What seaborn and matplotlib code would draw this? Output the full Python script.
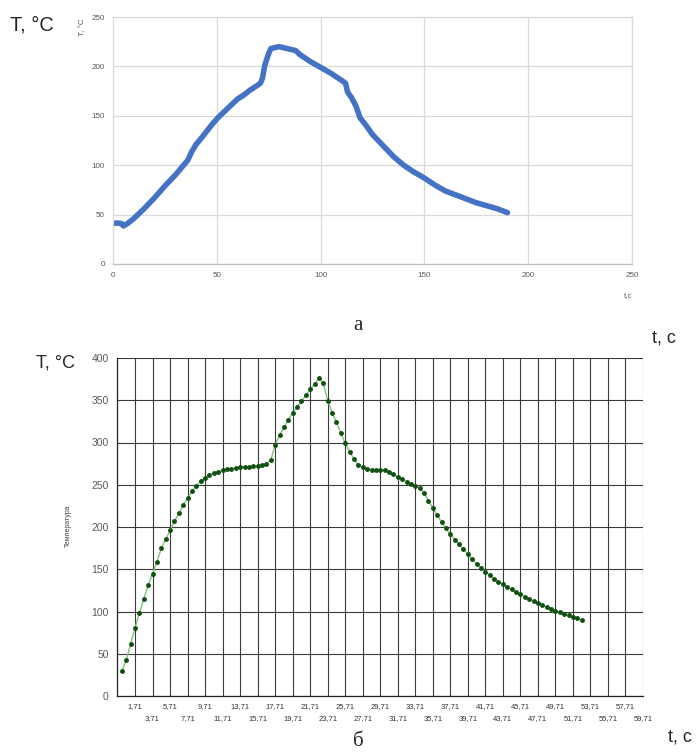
import numpy as np
import matplotlib
matplotlib.use("Agg")
import matplotlib.pyplot as plt
import seaborn as sns

# ===== Panel a: readings (t, s / T, °C) =====
time_a = [0, 2, 4, 5, 7, 10, 15, 20, 25, 30,
          34, 36, 38, 40, 42, 45, 48, 51, 54, 57,
          60, 63, 66, 69, 71, 72, 73, 74, 75, 76,
          78, 80, 84, 88, 90, 95, 100, 105, 110, 112,
          113, 115, 117, 119, 122, 125, 130, 135, 140, 145,
          150, 155, 160, 165, 170, 175, 180, 185, 190]
temp_a = [41, 41.5, 41, 38.5, 41, 46, 56, 67, 79, 90,
          100, 105, 114, 121, 126, 134, 142, 149, 155, 161,
          167, 171, 176, 180, 183, 188, 200, 207, 213, 218,
          219, 220, 218, 216, 212, 205, 199, 193, 186, 183,
          174, 168, 160, 148, 140, 131, 120, 109, 100, 93,
          87, 80, 74, 70, 66, 62, 59, 56, 52]

# ===== Panel б: readings every 0.5 s starting at 0.21 s =====
temp_b = [29.6, 42.2, 61.9, 80.9, 98.2, 114.8, 131, 144.8, 159, 174.8,
          185.4, 196, 206.7, 216.2, 225.7, 234.3, 242.2, 248.5, 254.5, 258,
          261.5, 263.5, 265.4, 267.1, 268.3, 269, 269.8, 270.6, 271, 271.4,
          271.8, 272.2, 273.4, 274.6, 279.3, 297, 308.4, 317.9, 326.6, 335.3,
          342, 348.7, 355.7, 362.9, 368.9, 376, 370, 349.5, 335.3, 323.9,
          310.9, 299, 289.2, 280.1, 273.4, 270.6, 268.6, 267.8, 267.5, 267.5,
          267.1, 265.4, 262.3, 259.2, 256.4, 253.3, 250.9, 248.5, 245.8, 240.6,
          231.1, 222.1, 214.2, 205.6, 198.4, 191.3, 185, 179.5, 173.6, 167.7,
          162.1, 156.6, 151.5, 147.1, 142.8, 138.8, 135.3, 132.2, 129, 126.3,
          123.1, 120.4, 117.5, 114.8, 112.4, 110.1, 107.7, 105.3, 103, 100.9,
          99, 97, 95.4, 93.8, 91.9, 89.9]
time_b = 0.21 + 0.5 * np.arange(len(temp_b))

xtick_labels_b = ["1,71", "3,71", "5,71", "7,71", "9,71", "11,71", "13,71", "15,71",
                  "17,71", "19,71", "21,71", "23,71", "25,71", "27,71", "29,71", "31,71",
                  "33,71", "35,71", "37,71", "39,71", "41,71", "43,71", "45,71", "47,71",
                  "49,71", "51,71", "53,71", "55,71", "57,71", "59,71"]
xtick_pos_b = [float(s.replace(",", ".")) for s in xtick_labels_b]

sns.set_style("white")
plt.rcParams["font.family"] = ["Liberation Sans", "DejaVu Sans"]

W, H = 698, 753
fig = plt.figure(figsize=(W / 100, H / 100), dpi=100)

# ===== Panel a =====
ax1 = fig.add_axes([113 / W, 1 - 264 / H, 519 / W, 247 / H])
sns.lineplot(x=time_a, y=temp_a, ax=ax1, color="#4472C4", linewidth=4.0,
             solid_capstyle="round", solid_joinstyle="round")
ax1.set_xlim(0, 250)
ax1.set_ylim(0, 250)
ax1.set_xticks(range(0, 251, 50))
ax1.set_yticks(range(0, 251, 50))
ax1.grid(True, color="#d9d9d9", linewidth=0.9)
ax1.set_axisbelow(True)
for sp in ax1.spines.values():
    sp.set_color("#d9d9d9")
    sp.set_linewidth(0.9)
ax1.spines["bottom"].set_color("#bfbfbf")
ax1.tick_params(length=0, labelsize=5.8, labelcolor="#595959", pad=6)
ax1.set_xlabel("")
ax1.set_ylabel("")
fig.text(83 / W, 1 - 27 / H, "T, °C", rotation=90, fontsize=5.8, color="#595959",
         ha="center", va="center")
fig.text(628 / W, 1 - 296 / H, "t,c", fontsize=5.8, color="#595959", ha="center", va="center")

# ===== Panel б =====
ax2 = fig.add_axes([117 / W, 1 - 696 / H, 526 / W, 338 / H])
sns.lineplot(x=time_b, y=temp_b, ax=ax2, color="#7cc47c", linewidth=1.0,
             marker="o", markersize=2.7, markerfacecolor="#0f4f0f", markeredgecolor="#0f4f0f")
ax2.set_xlim(-0.35, 59.71)
ax2.set_ylim(0, 400)
ax2.set_yticks(range(0, 401, 50))
ax2.set_xticks(xtick_pos_b[0::2], xtick_labels_b[0::2])
ax2.set_xticks(xtick_pos_b[1::2], xtick_labels_b[1::2], minor=True)
ax2.grid(True, which="both", color="#3a3a3a", linewidth=0.8)
ax2.set_axisbelow(True)
for side in ["top", "right"]:
    ax2.spines[side].set_visible(False)
for side in ["left", "bottom"]:
    ax2.spines[side].set_color("#222222")
    ax2.spines[side].set_linewidth(0.9)
ax2.tick_params(axis="y", length=4, width=0.8, color="#222222", labelsize=7.5,
                labelcolor="#595959", pad=2)
ax2.tick_params(axis="x", which="both", length=3, width=0.8, color="#222222",
                labelsize=5.5, labelcolor="#333333")
ax2.tick_params(axis="x", which="major", pad=2)
ax2.tick_params(axis="x", which="minor", pad=11)
ax2.set_xlabel("")
ax2.set_ylabel("")
fig.text(68 / W, 1 - 526 / H, "Температура", rotation=90, fontsize=5, color="#444444",
         ha="center", va="center")

# ===== Captions =====
fig.text(10 / W, 1 - 25 / H, "T, °C", fontsize=14.5, ha="left", va="center")
fig.text(36 / W, 1 - 363 / H, "T, °C", fontsize=13, ha="left", va="center")
fig.text(664 / W, 1 - 338 / H, "t, c", fontsize=13, ha="center", va="center")
fig.text(680 / W, 1 - 737 / H, "t, c", fontsize=13, ha="center", va="center")
fig.text(358 / W, 1 - 325 / H, "а", fontsize=15, family="Liberation Serif",
         ha="center", va="center")
fig.text(358 / W, 1 - 751 / H, "б", fontsize=15, family="Liberation Serif",
         ha="center", va="bottom")

fig.savefig("out.png", dpi=100)
